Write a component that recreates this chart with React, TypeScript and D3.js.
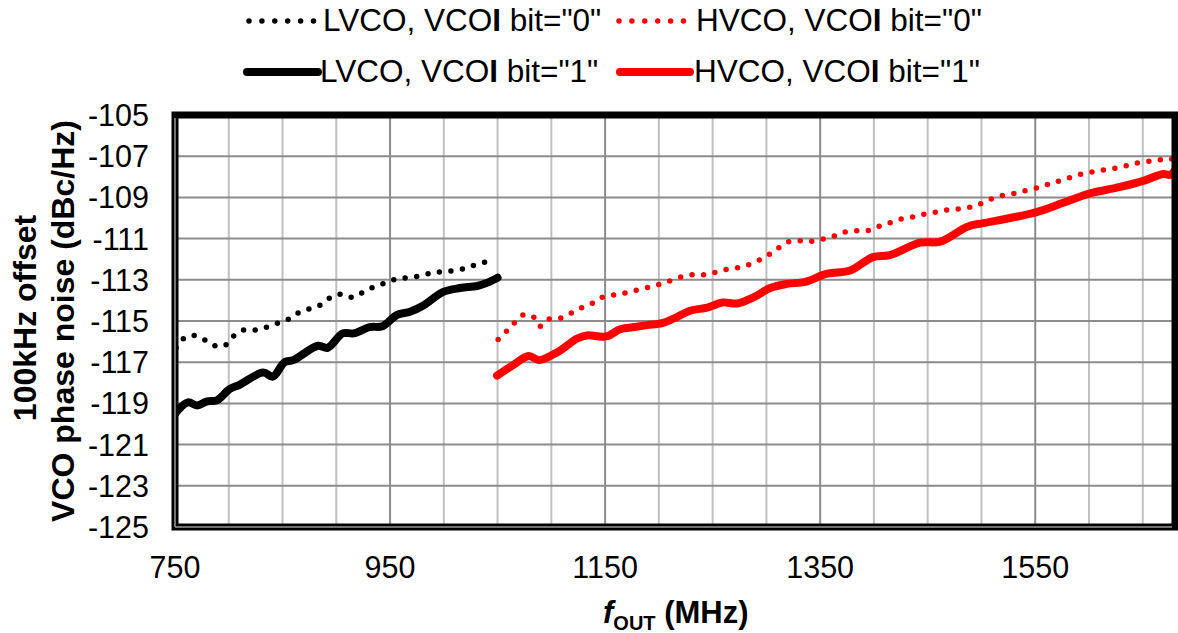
import React from "react";
import * as d3 from "d3";

// ---- data ----
const lvco1F = [750, 762, 770.5, 780, 789, 801, 810, 832, 841, 852, 860, 883, 892, 906, 916, 931, 943, 956.5, 968.6, 981, 999, 1015, 1031, 1040, 1050];
const lvco1V = [-119.5, -118.95, -119.1, -118.9, -118.85, -118.3, -118.1, -117.5, -117.7, -117.0, -116.9, -116.2, -116.3, -115.6, -115.6, -115.3, -115.25, -114.7, -114.55, -114.25, -113.6, -113.4, -113.3, -113.15, -112.9];

const lvco0F = [751, 758, 767, 777, 787, 796, 804, 813, 823.5, 835, 846, 856, 865, 875.5, 886, 895, 905, 915.5, 925, 935, 946, 956.5, 967, 979, 990, 1000, 1011, 1022.5, 1033, 1044];
const lvco0V = [-116.3, -115.85, -115.7, -115.9, -116.2, -116.2, -115.75, -115.45, -115.45, -115.3, -115.1, -114.9, -114.6, -114.4, -114.2, -113.85, -113.7, -113.85, -113.6, -113.35, -113.15, -112.95, -112.9, -112.8, -112.65, -112.6, -112.55, -112.4, -112.2, -112.1];

const hvco1F = [1049.5, 1064, 1079, 1088.6, 1106, 1124, 1133, 1151, 1164, 1176, 1189, 1203, 1213, 1229, 1245, 1259, 1273, 1288, 1303.5, 1319, 1336, 1356.5, 1378, 1399, 1415, 1443, 1461.6, 1487, 1501.6, 1526.7, 1552, 1576, 1601, 1626, 1650.5, 1669, 1675.6, 1682];
const hvco1V = [-117.65, -117.15, -116.7, -116.9, -116.5, -115.85, -115.7, -115.75, -115.4, -115.3, -115.2, -115.1, -114.9, -114.5, -114.35, -114.1, -114.15, -113.85, -113.4, -113.2, -113.1, -112.7, -112.55, -111.9, -111.8, -111.2, -111.15, -110.42, -110.25, -110.0, -109.7, -109.26, -108.8, -108.53, -108.2, -107.86, -107.9, -107.5];

const hvco0F = [1050.5, 1059, 1066, 1074.7, 1084, 1089.5, 1098, 1109, 1119, 1129.5, 1139.8, 1149, 1160, 1170.5, 1181.6, 1192.8, 1203, 1213, 1224.4, 1235.6, 1245.8, 1257, 1268, 1278, 1288.6, 1298.8, 1308, 1318, 1328.6, 1339, 1350, 1361, 1371, 1382.6, 1393.7, 1404, 1415, 1426, 1436.5, 1447.7, 1459, 1469, 1480, 1491, 1501.6, 1512, 1523, 1534, 1544, 1555.6, 1565.8, 1576, 1587, 1598, 1608.6, 1619.8, 1631, 1641, 1652, 1663.5, 1673.7, 1682];
const hvco0V = [-115.9, -115.46, -115.07, -114.69, -114.83, -115.26, -114.9, -114.85, -114.6, -114.32, -114.1, -113.81, -113.72, -113.62, -113.47, -113.33, -113.18, -113.0, -112.8, -112.75, -112.75, -112.55, -112.46, -112.36, -112.17, -111.88, -111.59, -111.2, -111.1, -111.15, -111.05, -110.91, -110.71, -110.62, -110.62, -110.42, -110.23, -110.04, -109.94, -109.8, -109.7, -109.6, -109.55, -109.46, -109.26, -109.02, -108.87, -108.78, -108.63, -108.49, -108.29, -108.15, -107.95, -107.81, -107.71, -107.62, -107.52, -107.37, -107.28, -107.18, -107.18, -107.03];

const xTicks = [750, 950, 1150, 1350, 1550];
const xGrid = [800, 850, 900, 1000, 1050, 1100, 1200, 1250, 1300, 1400, 1450, 1500, 1600, 1650];
const yTicks = [-105, -107, -109, -111, -113, -115, -117, -119, -121, -123, -125];

const legendLabels = ['LVCO, VCOI bit="0"', 'HVCO, VCOI bit="0"', 'LVCO, VCOI bit="1"', 'HVCO, VCOI bit="1"'];

const FONT = "'Liberation Sans', Arial, sans-serif";

export default function App() {
  const L = 175, R = 1175, T = 115, B = 527;
  const x = d3.scaleLinear().domain([750, 1680]).range([L, R]);
  const y = d3.scaleLinear().domain([-125, -105]).range([B, T]);

  const line = d3
    .line<[number, number]>()
    .x((d) => x(d[0]))
    .y((d) => y(d[1]))
    .curve(d3.curveCatmullRom.alpha(0.5));

  const zip = (a: number[], b: number[]) => a.map((v, i) => [v, b[i]] as [number, number]);

  const series = [
    { d: zip(lvco0F, lvco0V), color: "#000", dotted: true },
    { d: zip(hvco0F, hvco0V), color: "#ff0000", dotted: true },
    { d: zip(lvco1F, lvco1V), color: "#000", dotted: false },
    { d: zip(hvco1F, hvco1V), color: "#ff0000", dotted: false },
  ];

  const legendItems = [
    { x1: 249, x2: 313.5, y: 21, tx: 323, ty: 31, color: "#000", dotted: true, label: legendLabels[0] },
    { x1: 619, x2: 684.5, y: 21, tx: 696, ty: 31, color: "#ff0000", dotted: true, label: legendLabels[1] },
    { x1: 247, x2: 318, y: 72, tx: 320, ty: 82, color: "#000", dotted: false, label: legendLabels[2] },
    { x1: 620, x2: 690, y: 72, tx: 694, ty: 82, color: "#ff0000", dotted: false, label: legendLabels[3] },
  ];

  const renderLabel = (s: string) => {
    const idx = s.indexOf("VCOI");
    return (
      <>
        {s.slice(0, idx + 3)}
        <tspan fontWeight="bold">I</tspan>
        {s.slice(idx + 4)}
      </>
    );
  };

  return (
    <svg
      width={1178}
      height={633}
      style={{ position: "absolute", left: 0, top: 0, background: "#fff" }}
      fontFamily={FONT}
    >
      <defs>
        <clipPath id="plotClip">
          <rect x={L} y={T} width={R - L} height={B - T} />
        </clipPath>
      </defs>
      <rect x={0} y={0} width={1178} height={633} fill="#fff" />

      {/* grid */}
      {xGrid.map((v) => (
        <line key={"gx" + v} x1={x(v)} x2={x(v)} y1={T} y2={B} stroke="#c0c0c0" strokeWidth={2} />
      ))}
      {xTicks.map((v) => (
        <line key={"gxm" + v} x1={x(v)} x2={x(v)} y1={T} y2={B} stroke="#8c8c8c" strokeWidth={2} />
      ))}
      {yTicks.map((v) => (
        <line key={"gy" + v} x1={L} x2={R} y1={y(v)} y2={y(v)} stroke="#8c8c8c" strokeWidth={2} />
      ))}

      {/* series */}
      <g clipPath="url(#plotClip)">
        {series.map((s, i) => (
          <path
            key={i}
            d={line(s.d) || ""}
            fill="none"
            stroke={s.color}
            strokeWidth={s.dotted ? 5.5 : 8}
            strokeLinecap="round"
            strokeLinejoin="round"
            strokeDasharray={s.dotted ? "0 11.6" : undefined}
          />
        ))}
      </g>

      {/* frame */}
      <rect x={L} y={T} width={R - L} height={B - T} fill="none" stroke="#000" strokeWidth={7} />
      <line x1={L} x2={L} y1={T + 3} y2={B} stroke="#9a9a9a" strokeWidth={1.5} />
      <line x1={L} x2={R - 3} y1={B} y2={B} stroke="#9a9a9a" strokeWidth={1.5} />

      {/* y tick labels */}
      {yTicks.map((v) => (
        <text key={"yt" + v} x={149} y={y(v)} dy="0.36em" textAnchor="end" fontSize={30.5} fill="#000">
          {v}
        </text>
      ))}
      {/* x tick labels */}
      {xTicks.map((v) => (
        <text key={"xt" + v} x={x(v)} y={578} textAnchor="middle" fontSize={30.5} fill="#000">
          {v}
        </text>
      ))}

      {/* axis titles */}
      <text x={603} y={623} fontSize={31} fontWeight="bold" fill="#000">
        <tspan fontStyle="italic">f</tspan>
        <tspan fontSize={20} dy={7}>OUT</tspan>
        <tspan dy={-7}> (MHz)</tspan>
      </text>
      <text
        transform="translate(36,318) rotate(-90)"
        textAnchor="middle"
        fontSize={32}
        fontWeight="bold"
        fill="#000"
      >
        100kHz offset
      </text>
      <text
        transform="translate(74,321) rotate(-90)"
        textAnchor="middle"
        fontSize={32}
        fontWeight="bold"
        fill="#000"
      >
        VCO phase noise (dBc/Hz)
      </text>

      {/* legend */}
      {legendItems.map((it, i) => (
        <g key={"lg" + i}>
          <line
            x1={it.x1}
            x2={it.x2}
            y1={it.y}
            y2={it.y}
            stroke={it.color}
            strokeWidth={it.dotted ? 5.5 : 8}
            strokeLinecap="round"
            strokeDasharray={it.dotted ? "0 12.9" : undefined}
          />
          <text x={it.tx} y={it.ty} fontSize={31.5} fill="#000">
            {renderLabel(it.label)}
          </text>
        </g>
      ))}
    </svg>
  );
}
